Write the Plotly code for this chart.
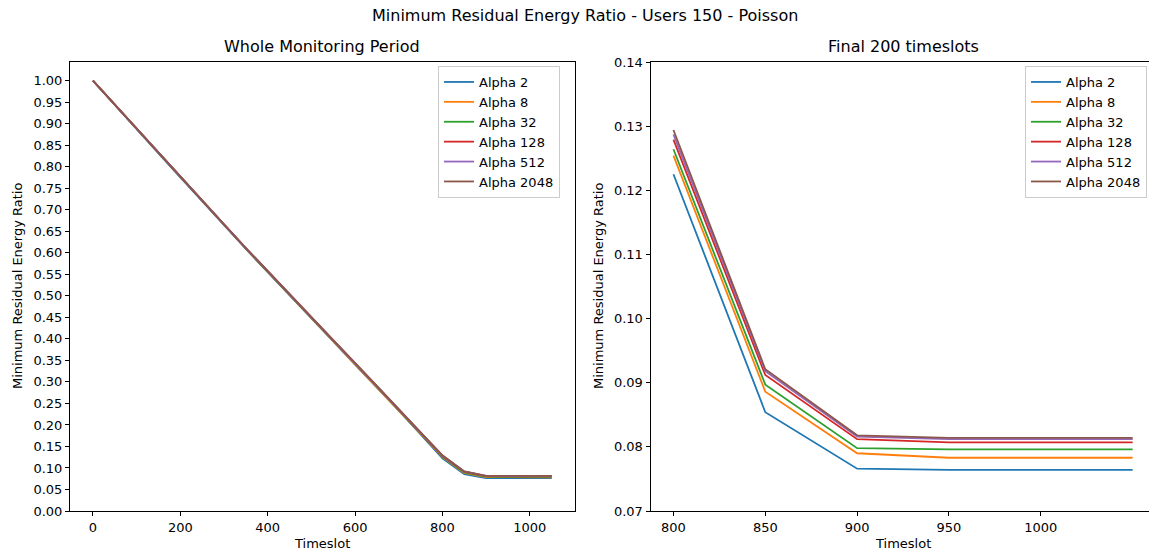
import plotly.graph_objects as go

# ---------------- data ----------------
timeslots = [0, 50, 100, 150, 200, 250, 300, 350, 400, 450, 500, 550, 600, 650, 700, 750,
             800, 850, 900, 950, 1000, 1050]
alpha_names = ["Alpha 2", "Alpha 8", "Alpha 32", "Alpha 128", "Alpha 512", "Alpha 2048"]

alpha2 = [1.000, 0.943, 0.887, 0.831, 0.775, 0.719, 0.664, 0.609, 0.555, 0.502, 0.448, 0.394,
          0.340, 0.287, 0.233, 0.178, 0.1225, 0.0854, 0.0766, 0.0764, 0.0764, 0.0764]
alpha8 = [1.000, 0.944, 0.888, 0.832, 0.776, 0.720, 0.665, 0.610, 0.556, 0.503, 0.449, 0.395,
          0.341, 0.288, 0.234, 0.180, 0.1254, 0.0886, 0.0790, 0.0783, 0.0783, 0.0783]
alpha32 = [1.000, 0.944, 0.888, 0.832, 0.776, 0.720, 0.665, 0.610, 0.556, 0.503, 0.449, 0.396,
           0.342, 0.289, 0.235, 0.181, 0.1264, 0.0897, 0.0798, 0.0796, 0.0796, 0.0796]
alpha128 = [1.000, 0.944, 0.888, 0.832, 0.776, 0.721, 0.666, 0.611, 0.557, 0.504, 0.450, 0.397,
            0.343, 0.290, 0.236, 0.182, 0.1279, 0.0912, 0.0812, 0.0807, 0.0807, 0.0807]
alpha512 = [1.000, 0.944, 0.888, 0.832, 0.776, 0.721, 0.666, 0.611, 0.557, 0.504, 0.450, 0.397,
            0.343, 0.290, 0.236, 0.182, 0.1287, 0.0918, 0.0816, 0.0812, 0.0812, 0.0812]
alpha2048 = [1.000, 0.944, 0.888, 0.832, 0.776, 0.721, 0.666, 0.611, 0.557, 0.504, 0.450, 0.397,
             0.344, 0.291, 0.237, 0.183, 0.1294, 0.0921, 0.0818, 0.0814, 0.0814, 0.0814]
series = [alpha2, alpha8, alpha32, alpha128, alpha512, alpha2048]

final_start = 800  # final window starts here

left_xticks = [0, 200, 400, 600, 800, 1000]
left_yticks = [round(i * 0.05, 2) for i in range(21)]
right_xticks = [800, 850, 900, 950, 1000]
right_yticks = [0.07, 0.08, 0.09, 0.10, 0.11, 0.12, 0.13, 0.14]

colors = ["#1f77b4", "#ff7f0e", "#2ca02c", "#d62728", "#9467bd", "#8c564b"]

W, H = 1149, 553
FONT = "DejaVu Sans"
SMALL = 13
BIG = 16


def px_x(p):
    return p / W


def px_y(p):
    return 1 - p / H


fig = go.Figure()

idx0 = timeslots.index(final_start)
for name, vals, c in zip(alpha_names, series, colors):
    fig.add_trace(go.Scatter(x=timeslots, y=vals, mode="lines", name=name,
                             line=dict(color=c, width=1.8), xaxis="x", yaxis="y",
                             legend="legend"))
for name, vals, c in zip(alpha_names, series, colors):
    fig.add_trace(go.Scatter(x=timeslots[idx0:], y=vals[idx0:], mode="lines", name=name,
                             line=dict(color=c, width=1.8), xaxis="x2", yaxis="y2",
                             legend="legend2"))

tickfont = dict(family=FONT, size=SMALL, color="black")
axis_common = dict(showgrid=False, zeroline=False, showline=True, linecolor="black",
                   linewidth=1, ticks="outside", ticklen=4, tickwidth=1, tickcolor="black",
                   tickfont=tickfont, automargin=False)

ydom = [px_y(511), px_y(62)]

legend_common = dict(yanchor="top", xanchor="right", bgcolor="rgba(255,255,255,0.8)",
                     bordercolor="#cccccc", borderwidth=1,
                     font=dict(family=FONT, size=SMALL), itemwidth=30, tracegroupgap=0)

fig.update_layout(
    template="none",
    width=W, height=H,
    margin=dict(l=0, r=0, t=0, b=0, pad=0, autoexpand=False),
    paper_bgcolor="white", plot_bgcolor="white",
    font=dict(family=FONT, size=SMALL, color="black"),
    xaxis=dict(domain=[px_x(70), px_x(574.6)], range=[-52.5, 1102.5],
               tickvals=left_xticks, mirror=True, anchor="y", **axis_common),
    yaxis=dict(domain=ydom, range=[0, 1.0434], tickvals=left_yticks, tickformat=".2f",
               mirror=True, anchor="x", **axis_common),
    xaxis2=dict(domain=[px_x(650.5), 1.0], range=[787.5, 1058.9],
                tickvals=right_xticks, mirror=True, anchor="y2", **axis_common),
    yaxis2=dict(domain=ydom, range=[0.07, 0.14], tickvals=right_yticks, tickformat=".2f",
                mirror=False, anchor="x2", **axis_common),
    legend=dict(x=px_x(560), y=px_y(66), **legend_common),
    legend2=dict(x=px_x(1147), y=px_y(66), **legend_common),
    showlegend=True,
)

ann = []
ann.append(dict(text="Minimum Residual Energy Ratio - Users 150 - Poisson",
                x=px_x(585), y=px_y(16), font=dict(family=FONT, size=BIG)))
ann.append(dict(text="Whole Monitoring Period", x=px_x(321.5), y=px_y(46),
                font=dict(family=FONT, size=BIG)))
ann.append(dict(text="Final 200 timeslots", x=px_x(903), y=px_y(46),
                font=dict(family=FONT, size=BIG)))
ann.append(dict(text="Timeslot", x=px_x(321.5), y=px_y(543), font=dict(family=FONT, size=SMALL)))
ann.append(dict(text="Timeslot", x=px_x(903), y=px_y(543), font=dict(family=FONT, size=SMALL)))
ann.append(dict(text="Minimum Residual Energy Ratio", x=px_x(17), y=px_y(286), textangle=-90,
                font=dict(family=FONT, size=SMALL)))
ann.append(dict(text="Minimum Residual Energy Ratio", x=px_x(598), y=px_y(286), textangle=-90,
                font=dict(family=FONT, size=SMALL)))
for a in ann:
    a.update(xref="paper", yref="paper", showarrow=False, xanchor="center", yanchor="middle")
fig.update_layout(annotations=ann)

fig.write_html("out.html")
